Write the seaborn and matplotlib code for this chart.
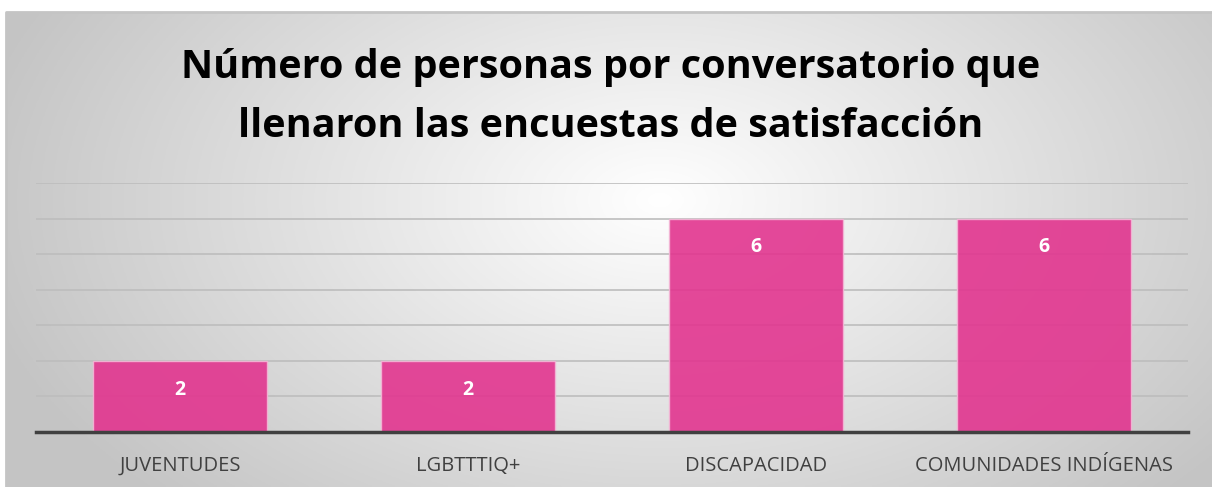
import numpy as np
import pandas as pd
import matplotlib.pyplot as plt
import seaborn as sns

categorias = ["JUVENTUDES", "LGBTTTIQ+", "DISCAPACIDAD", "COMUNIDADES INDÍGENAS"]
personas = [2, 2, 6, 6]
titulo = "Número de personas por conversatorio que\nllenaron las encuestas de satisfacción"

sns.set_theme(style="white")
plt.rcParams['font.family'] = ['Open Sans', 'DejaVu Sans']

W, H = 1212, 487
fig = plt.figure(figsize=(W / 100, H / 100), dpi=100)
fig.patch.set_facecolor("white")

# fondo con degradado radial (como en Excel)
bg = fig.add_axes([6 / W, 0, 1 - 6 / W, 1 - 12 / H], zorder=0)
xx, yy = np.meshgrid(np.linspace(6, W, 400), np.linspace(12, H, 200))
d = np.sqrt(((xx - 660) / 700) ** 2 + ((yy - 200) / 430) ** 2)
g = 1 - (1 - 0.77) * np.clip(d, 0, 1)
bg.imshow(np.dstack([g, g, g]), extent=[0, 1, 0, 1], aspect="auto", origin="upper")
bg.set_xlim(0, 1)
bg.set_ylim(0, 1)
bg.axis("off")
bg.plot([0, 0, 1], [0, 1, 1], color="#c4c4c4", lw=2, transform=bg.transAxes, clip_on=False)

ax = fig.add_axes([36 / W, 1 - 432 / H, 1152 / W, (432 - 183) / H], zorder=1)
ax.patch.set_alpha(0)

df = pd.DataFrame({"categoria": categorias, "personas": personas})
sns.barplot(data=df, x="categoria", y="personas", ax=ax, color="#e2358f",
            width=0.605, alpha=0.9, edgecolor="#f3b7d6", linewidth=1, saturation=1)

ax.set_ylim(0, 7)
ax.set_xlim(-0.5, len(categorias) - 0.5)
ax.set_yticks(range(1, 8))
ax.yaxis.grid(True, color="#bdbdbd", lw=1.2)
ax.set_axisbelow(True)
ax.tick_params(axis="y", left=False, labelleft=False)
ax.tick_params(axis="x", length=0, pad=17, labelsize=14.5, labelcolor="#404040")
for s in ["top", "right", "left"]:
    ax.spines[s].set_visible(False)
ax.spines["bottom"].set_color("#404040")
ax.spines["bottom"].set_linewidth(2.5)
ax.set_xlabel("")
ax.set_ylabel("")

ax.bar_label(ax.containers[0], padding=-28, color="white", fontweight="bold", fontsize=14)

fig.text(0.504, 1 - 97 / H, titulo, ha="center", va="center", fontsize=28.5,
         fontweight="bold", color="black", linespacing=1.65)

fig.savefig("out.png", dpi=100)
